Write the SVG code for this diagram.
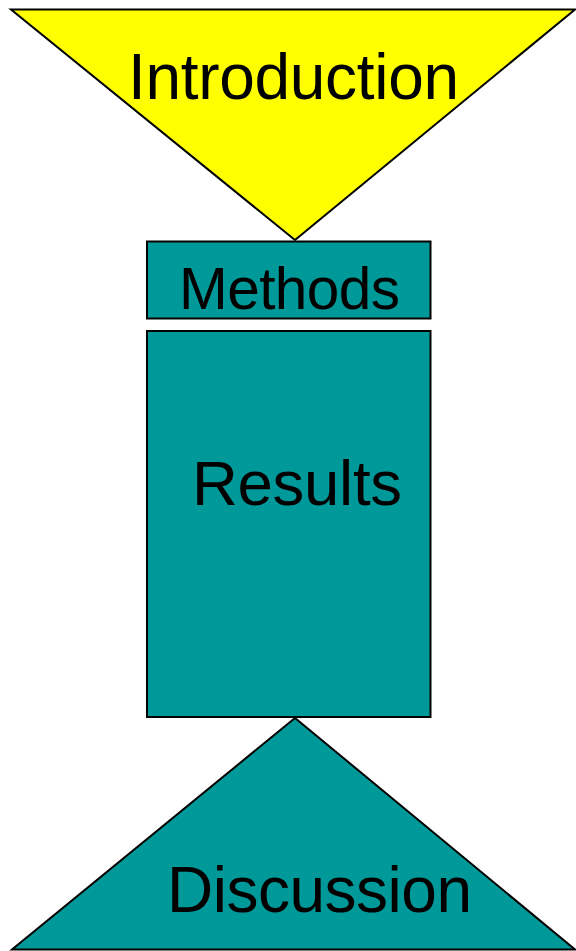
<svg xmlns="http://www.w3.org/2000/svg" width="576" height="951" viewBox="0 0 576 951">
<style>
.s{stroke:#000;stroke-width:2;}
.t{font-family:"Liberation Sans",Arial,sans-serif;fill:#000;}
.teal{fill:#009999;}
</style>
<rect width="576" height="951" fill="#fff"/>
<g id="introduction">
<polygon class="s" fill="#ffff00" points="11,9.5 575,9.5 295,240"/>
<text class="t" x="128" y="99" font-size="64" textLength="331">Introduction</text>
</g>
<g id="methods">
<rect class="s teal" x="147" y="241.5" width="283.5" height="77"/>
<text class="t" x="179" y="309" font-size="58.5" textLength="221">Methods</text>
</g>
<g id="results">
<rect class="s teal" x="147" y="331" width="283.5" height="386"/>
<text class="t" x="192" y="505" font-size="63.5" textLength="210">Results</text>
</g>
<g id="discussion">
<polygon class="s teal" points="295,718 575,949.5 12,949.5"/>
<text class="t" x="167" y="912" font-size="64" textLength="305">Discussion</text>
</g>
<g id="connectors"/>
</svg>
